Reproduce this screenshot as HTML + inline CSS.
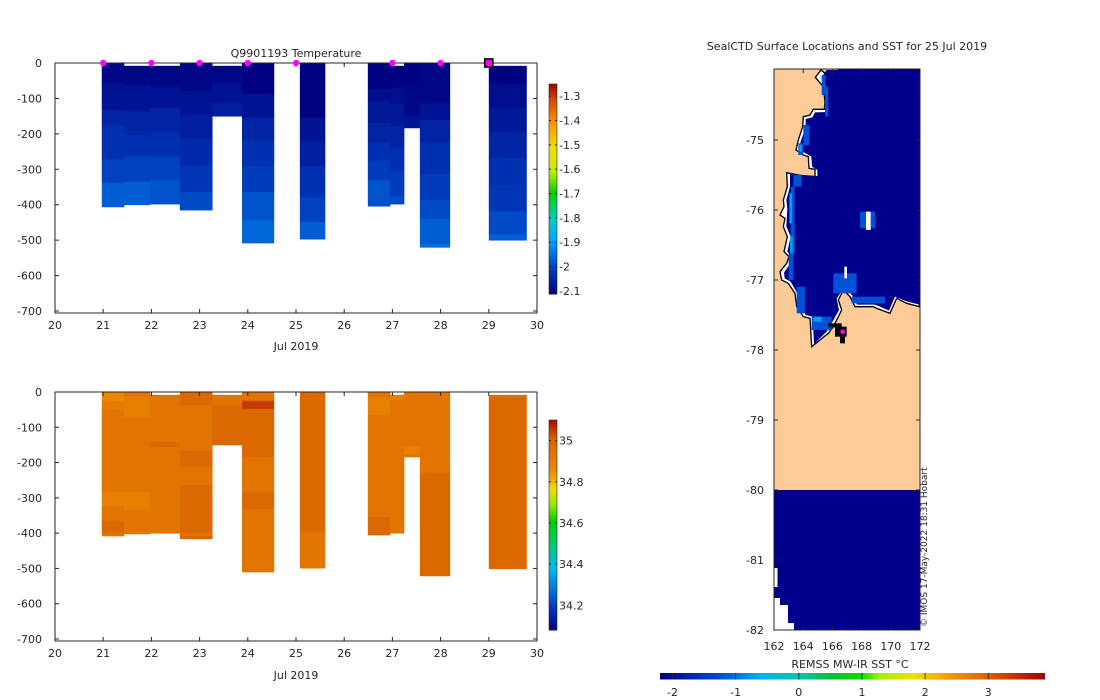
<!DOCTYPE html>
<html><head><meta charset="utf-8">
<style>
body{margin:0;background:#fff;}
svg{display:block;font-family:"DejaVu Sans","Liberation Sans",sans-serif;}
text{fill:#262626;font-size:11px;}
</style></head>
<body>
<svg id="fig" width="1100" height="700" viewBox="0 0 1100 700" xmlns="http://www.w3.org/2000/svg">
<defs>
<linearGradient id="sstGrad" x1="0" x2="1" y1="0" y2="0">
<stop offset="0" stop-color="#000080"/><stop offset="0.16" stop-color="#0050d0"/>
<stop offset="0.26" stop-color="#00b0f0"/><stop offset="0.36" stop-color="#00c8b0"/>
<stop offset="0.44" stop-color="#00c040"/><stop offset="0.52" stop-color="#00e000"/>
<stop offset="0.57" stop-color="#a0f000"/><stop offset="0.66" stop-color="#f0e000"/>
<stop offset="0.72" stop-color="#f8b000"/><stop offset="0.85" stop-color="#e06000"/>
<stop offset="1" stop-color="#a00000"/></linearGradient>
</defs>
<g id="tempChart"></g>
<g id="salChart"></g>
<text x="296" y="57" text-anchor="middle">Q9901193  Temperature</text>
<text x="296" y="350" text-anchor="middle">Jul 2019</text>
<text x="296" y="679" text-anchor="middle">Jul 2019</text>

<g id="map">
<text x="847" y="50" text-anchor="middle">SealCTD Surface Locations and SST for 25 Jul 2019</text>
<rect x="774" y="69" width="146" height="421" fill="#fdcb98"/>
<g transform="translate(760,60) scale(0.33333)">
<polygon fill="#fff" stroke="#000" stroke-width="4" points="183,30 166,52 190,80 195,125 193,148 160,148 150,165 130,170 128,200 115,240 108,270 130,285 145,290 147,325 165,328 165,355 80,338 82,380 70,420 72,440 60,465 75,475 70,500 82,530 72,575 87,590 80,610 60,635 65,660 85,670 105,700 110,740 130,770 150,775 155,860 205,820 220,800 245,750 235,720 250,690 270,710 285,740 340,740 350,745 390,760 410,715 440,730 478,740 478,30 235,30 230,45 205,62 195,40"/>
<polygon fill="#00008c" points="200,30 186,50 198,80 203,125 201,156 165,157 157,172 137,177 137,200 122,245 116,268 137,280 154,290 156,320 172,330 172,348 90,342 90,380 79,420 82,445 79,500 92,530 82,575 95,590 88,615 72,638 74,655 92,665 112,700 118,737 137,765 158,770 162,852 200,815 212,795 237,750 230,715 252,684 276,705 291,734 343,734 356,738 387,752 405,710 440,724 478,734 478,30"/>
<g fill="#0050d8">
<rect x="185" y="45" width="12" height="60"/><rect x="195" y="80" width="10" height="90"/>
<rect x="130" y="195" width="18" height="60"/><rect x="115" y="250" width="15" height="35"/>
<rect x="100" y="345" width="25" height="35"/><rect x="92" y="380" width="12" height="200"/>
<rect x="86" y="580" width="14" height="80"/><rect x="110" y="680" width="25" height="80"/>
<rect x="155" y="770" width="60" height="40"/><rect x="220" y="640" width="70" height="60"/>
<rect x="275" y="710" width="100" height="20"/><rect x="300" y="455" width="45" height="50"/>
</g>
<g fill="#00a0f0">
<rect x="88" y="400" width="8" height="90"/><rect x="90" y="530" width="8" height="50"/><rect x="160" y="770" width="25" height="15"/><rect x="118" y="255" width="8" height="20"/>
</g>
<rect x="318" y="455" width="14" height="55" fill="#fff"/>
<rect x="253" y="620" width="8" height="35" fill="#fff"/>
<g fill="#000">
<rect x="205" y="790" width="40" height="12"/><rect x="225" y="800" width="35" height="30"/><rect x="240" y="830" width="15" height="20"/>
</g>
<circle cx="248" cy="815" r="8" fill="#ff00ff" stroke="#000" stroke-width="2"/>
</g>
<rect x="774" y="490" width="146" height="140" fill="#00008c"/>
<g fill="#fff">
<rect x="774" y="568" width="3.5" height="19"/><rect x="774" y="598" width="6" height="7"/>
<rect x="774" y="605" width="14" height="18"/><rect x="774" y="623" width="20" height="7"/>
</g>
<rect x="774" y="69" width="146" height="561" fill="none" stroke="#262626" stroke-width="1"/>
<g id="mapTicks"></g>
<text transform="translate(927,627) rotate(-90)" style="font-size:9px">© IMOS 17-May-2022 18:31 Hobart</text>
<rect x="660" y="673" width="385" height="6.5" fill="url(#sstGrad)"/>
<text x="850" y="668" text-anchor="middle">REMSS MW-IR SST °C</text>
<g id="sstTicks"></g>
</g>
</svg>
<script>
// ---- data ----
const tStarts = [20.97,21.43,21.97,22.59,23.26,23.88,25.08,26.49,26.95,27.24,27.57,29.0];
const tEnds   = [21.43,21.97,22.59,23.26,23.88,24.54,25.6,26.95,27.24,27.57,28.19,29.78];
const tempDepths = [
 [0,56,133,175,271,339,406],[8,62,136,203,262,336,400],[8,68,127,195,265,330,398],
 [0,79,147,212,291,364,415],[8,56,113,150],[0,87,155,217,291,364,443,508],
 [0,155,220,291,378,449,497],[0,73,107,169,223,276,330,404],[8,70,116,178,243,305,375,398],
 [0,62,147,183],[0,113,161,223,313,387,440,511,520],[8,59,127,195,268,344,418,483,500]];
const tempValues = [
 [-2.1,-2.08,-2.05,-2.03,-2.0,-1.97],[-2.1,-2.08,-2.05,-2.03,-2.0,-1.97],[-2.1,-2.08,-2.05,-2.03,-2.0,-1.98],
 [-2.1,-2.08,-2.06,-2.04,-2.02,-1.99],[-2.1,-2.08,-2.06],[-2.11,-2.08,-2.05,-2.03,-2.01,-1.98,-1.96],
 [-2.11,-2.08,-2.06,-2.03,-2.0,-1.97],[-2.11,-2.09,-2.07,-2.05,-2.03,-2.01,-1.98],[-2.11,-2.09,-2.07,-2.05,-2.03,-2.01,-1.99],
 [-2.11,-2.1,-2.08],[-2.1,-2.08,-2.05,-2.03,-2.01,-1.99,-1.97,-1.95],[-2.11,-2.09,-2.07,-2.05,-2.03,-2.02,-1.99,-1.97]];
const salDepths = [
 [0,25,48,99,283,323,365,399,408],[0,13,70,283,334,402],[8,142,156,400],[0,37,167,212,263,399,408,416],
 [8,37,150],[0,25,48,184,283,331,510],[0,397,499],[0,17,65,354,405],[8,23,400],[0,153,176,184],[0,229,521],[8,14,501]];
const salValues = [
 [34.86,34.9,34.94,34.94,34.89,34.94,35.0,34.94],[34.94,34.89,34.94,34.89,34.94],[34.94,35.0,34.94],
 [35.0,34.94,35.0,34.94,35.0,34.94,35.0],[34.94,35.0],[34.94,35.05,35.0,34.94,35.0,34.94],[35.0,34.94],
 [34.94,34.88,34.94,35.0],[34.89,34.94],[34.94,34.88,34.94],[34.94,35.0],[34.94,35.0]];
const markerDays = [21,22,23,24,25,27,28];
const lastMarkerDay = 29;
const dayTicks = [20,21,22,23,24,25,26,27,28,29,30];
const depthTicks = [0,-100,-200,-300,-400,-500,-600,-700];
const tempCbTicks = [-1.3,-1.4,-1.5,-1.6,-1.7,-1.8,-1.9,-2,-2.1];
const salCbTicks = [35,34.8,34.6,34.4,34.2];
const mapLonTicks = [162,164,166,168,170,172];
const mapLatTicks = [-75,-76,-77,-78,-79,-80,-81,-82];
const sstTicks = [-2,-1,0,1,2,3];

const NS='http://www.w3.org/2000/svg';
function mk(tag,attrs,parent){const e=document.createElementNS(NS,tag);for(const k in attrs)e.setAttribute(k,attrs[k]);parent.appendChild(e);return e;}
function lerpColor(stops,t){t=Math.max(0,Math.min(1,t));for(let i=1;i<stops.length;i++){if(t<=stops[i][0]){const a=stops[i-1],b=stops[i];const f=(t-a[0])/(b[0]-a[0]);const c=[0,1,2].map(j=>Math.round(a[1][j]+(b[1][j]-a[1][j])*f));return 'rgb('+c.join(',')+')';}}const l=stops[stops.length-1][1];return 'rgb('+l.join(',')+')';}
const tStops=[[0,[0,0,128]],[0.13,[0,64,192]],[0.25,[0,160,255]],[0.36,[0,208,192]],[0.48,[0,208,0]],[0.59,[192,240,0]],[0.7,[240,224,0]],[0.82,[255,144,0]],[0.94,[208,64,0]],[1,[160,0,0]]];
const sStops=[[0,[0,0,128]],[0.12,[0,64,200]],[0.3,[0,190,240]],[0.42,[0,200,100]],[0.52,[0,210,0]],[0.6,[150,230,0]],[0.67,[240,220,0]],[0.72,[240,170,0]],[0.77,[234,132,0]],[0.85,[224,116,0]],[0.91,[218,102,0]],[1,[170,10,0]]];

function drawChart(g,top,bottom,depths,values,cmap,vmin,vmax,cbTop,cbBot,cbTicks,cbName,withMarkers){
  const L=55,R=537;
  const xS=d=>L+(d-20)*(R-L)/10;
  const yS=z=>top+z*(bottom-2-top)/700;
  for(let c=0;c<tStarts.length;c++){
    for(let k=0;k<values[c].length;k++){
      const r=mk('rect',{x:xS(tStarts[c]),y:yS(depths[c][k]),width:xS(tEnds[c])-xS(tStarts[c])+0.4,height:yS(depths[c][k+1])-yS(depths[c][k])+0.4,fill:lerpColor(cmap,(values[c][k]-vmin)/(vmax-vmin))},g);
      
      
    }
  }
  const box=mk('rect',{x:L,y:top,width:R-L,height:bottom-top,fill:'none',stroke:'#262626','stroke-width':1},g);
  
  
  dayTicks.forEach(d=>{const x=xS(d);
    mk('line',{x1:x,x2:x,y1:bottom,y2:bottom-4,stroke:'#262626'},g);
    mk('line',{x1:x,x2:x,y1:top,y2:top+4,stroke:'#262626'},g);
    const t=mk('text',{x:x,y:bottom+16,'text-anchor':'middle'},g);t.textContent=d;
    
    });
  depthTicks.forEach(v=>{const y=yS(-v);
    mk('line',{x1:L,x2:L+4,y1:y,y2:y,stroke:'#262626'},g);
    mk('line',{x1:R,x2:R-4,y1:y,y2:y,stroke:'#262626'},g);
    const t=mk('text',{x:L-13,y:y+4,'text-anchor':'end'},g);t.textContent=v;
    
    });
  const cbx=549,cbw=8,n=60;
  for(let i=0;i<n;i++){const y0=cbBot-(i+1)*(cbBot-cbTop)/n;
    const r=mk('rect',{x:cbx,y:y0,width:cbw,height:(cbBot-cbTop)/n+0.5,fill:lerpColor(cmap,(i+0.5)/n)},g);
    
    }
  const cb=mk('rect',{x:cbx,y:cbTop,width:cbw,height:cbBot-cbTop,fill:'none',stroke:'#262626','stroke-width':0.6},g);
  
  
  cbTicks.forEach(v=>{const y=cbBot-(v-vmin)/(vmax-vmin)*(cbBot-cbTop);
    mk('line',{x1:cbx,x2:cbx+2,y1:y,y2:y,stroke:'#262626'},g);
    mk('line',{x1:cbx+cbw,x2:cbx+cbw-2,y1:y,y2:y,stroke:'#262626'},g);
    const t=mk('text',{x:cbx+cbw+2,y:y+4},g);t.textContent=v;
    
    });
  if(withMarkers){
    markerDays.forEach(d=>{const m=mk('circle',{cx:xS(d),cy:top,r:3.2,fill:'#ff00ff'},g);
      
      });
    const lm=mk('rect',{x:xS(lastMarkerDay)-4,y:top-4,width:8,height:8,fill:'#ff00ff',stroke:'#000','stroke-width':1.6},g);
    
    
  }
}
drawChart(document.getElementById('tempChart'),63,313,tempDepths,tempValues,tStops,-2.113,-1.25,84,294,tempCbTicks,'temperature-colorbar',true);
drawChart(document.getElementById('salChart'),392,641,salDepths,salValues,sStops,34.08,35.1,420,630,salCbTicks,'salinity-colorbar',false);

const mt=document.getElementById('mapTicks');
mapLonTicks.forEach(v=>{const x=774+(v-162)*14.6;
  mk('line',{x1:x,x2:x,y1:630,y2:626,stroke:'#262626'},mt);
  mk('line',{x1:x,x2:x,y1:69,y2:73,stroke:'#262626'},mt);
  const t=mk('text',{x:x,y:650,'text-anchor':'middle'},mt);t.textContent=v;
  
  });
mapLatTicks.forEach(v=>{const y=140+(-75-v)*70;
  mk('line',{x1:774,x2:778,y1:y,y2:y,stroke:'#262626'},mt);
  mk('line',{x1:920,x2:916,y1:y,y2:y,stroke:'#262626'},mt);
  const t=mk('text',{x:764,y:y+4,'text-anchor':'end'},mt);t.textContent=v;
  
  });
const st=document.getElementById('sstTicks');
sstTicks.forEach(v=>{const x=672.5+(v+2)*63.15;
  mk('line',{x1:x,x2:x,y1:673,y2:676,stroke:'#262626'},st);
  mk('line',{x1:x,x2:x,y1:679.5,y2:676.5,stroke:'#262626'},st);
  const t=mk('text',{x:x,y:696,'text-anchor':'middle'},st);t.textContent=v;
  
  });
</script>
</body></html>
